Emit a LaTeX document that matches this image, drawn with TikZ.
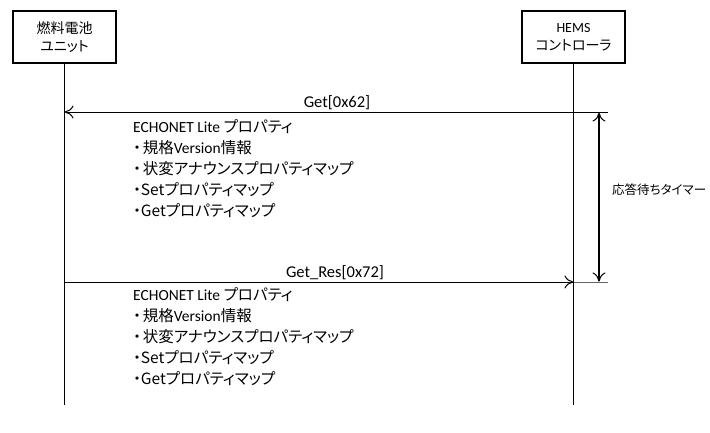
\documentclass[tikz,border=0pt]{standalone}
\usepackage{fontspec}
\usetikzlibrary{arrows.meta}
\newfontfamily\jpf[RawFeature={+palt}]{Noto Sans CJK JP}
\newfontfamily\latf{Carlito}
\newcommand{\La}[1]{{\latf #1}}
\newcommand{\Bu}{・\kern2pt}
\tikzset{
  actor/.style={draw, line width=2.4pt, minimum width=103pt, minimum height=52pt, inner sep=0pt, align=center, font=\jpf\fontsize{14}{18}\selectfont},
  lifeline/.style={line width=0.8pt},
  msg/.style={line width=1pt, -{To[length=9pt,width=13pt,line width=1pt]}},
  msglabel/.style={font=\latf\fontsize{16.5}{20}\selectfont, inner sep=0pt, anchor=base},
  txt/.style={font=\jpf\fontsize{15.5}{20}\selectfont, inner sep=0pt, anchor=base west},
  tick/.style={line width=0.8pt},
  timer/.style={line width=1.2pt, {To[length=9pt,width=13pt,line width=1pt]}-{To[length=9pt,width=13pt,line width=1pt]}}
}
\begin{document}
\begin{tikzpicture}[x=1pt,y=-1pt]
\useasboundingbox (0,0) rectangle (710,432);
\node[actor] (fc) at (64.5,37) {燃料電池\\ユニット};
\node[actor] (hems) at (573.5,37) {\La{HEMS}\\コントローラ};
\coordinate (fcend) at (64.5,405);
\coordinate (hemsend) at (573.5,405);
\draw[lifeline] (fc.south) -- (fcend);
\draw[lifeline] (hems.south) -- (hemsend);
% Get
\coordinate (g1) at (573.5,112);
\coordinate (g0) at (64.5,112);
\coordinate (gt) at (608,112);
\draw[msg] (g1) -- (g0);
\draw[tick] (g1) -- (gt);
\node[msglabel] (getl) at (337,107) {Get[0x62]};
% Get_Res
\coordinate (r0) at (64.5,282);
\coordinate (r1) at (573.5,282);
\coordinate (rt) at (608,282);
\draw[msg] (r0) -- (r1);
\draw[tick, black!60] (r1) -- (rt);
\node[msglabel] (resl) at (335,277) {Get\_Res[0x72]};
% timer
\coordinate (t0) at (599,112.5);
\coordinate (t1) at (599,281.5);
\draw[timer] (t0) -- (t1);
\node[font=\jpf\fontsize{12.5}{15}\selectfont, inner sep=0pt, anchor=west] (tl) at (612,190) {応答待ちタイマー};
% text block 1
\node[txt] (a1) at (133,132) {\La{ECHONET Lite} プロパティ};
\node[txt] (a2) at (133,153) {\Bu 規格\La{Version}情報};
\node[txt] (a3) at (133,174) {\Bu 状変アナウンスプロパティマップ};
\node[txt] (a4) at (133,195) {・Setプロパティマップ};
\node[txt] (a5) at (133,216) {・Getプロパティマップ};
% text block 2
\node[txt] (b1) at (133,300) {\La{ECHONET Lite} プロパティ};
\node[txt] (b2) at (133,321) {\Bu 規格\La{Version}情報};
\node[txt] (b3) at (133,342) {\Bu 状変アナウンスプロパティマップ};
\node[txt] (b4) at (133,363) {・Setプロパティマップ};
\node[txt] (b5) at (133,384) {・Getプロパティマップ};
\end{tikzpicture}
\end{document}
